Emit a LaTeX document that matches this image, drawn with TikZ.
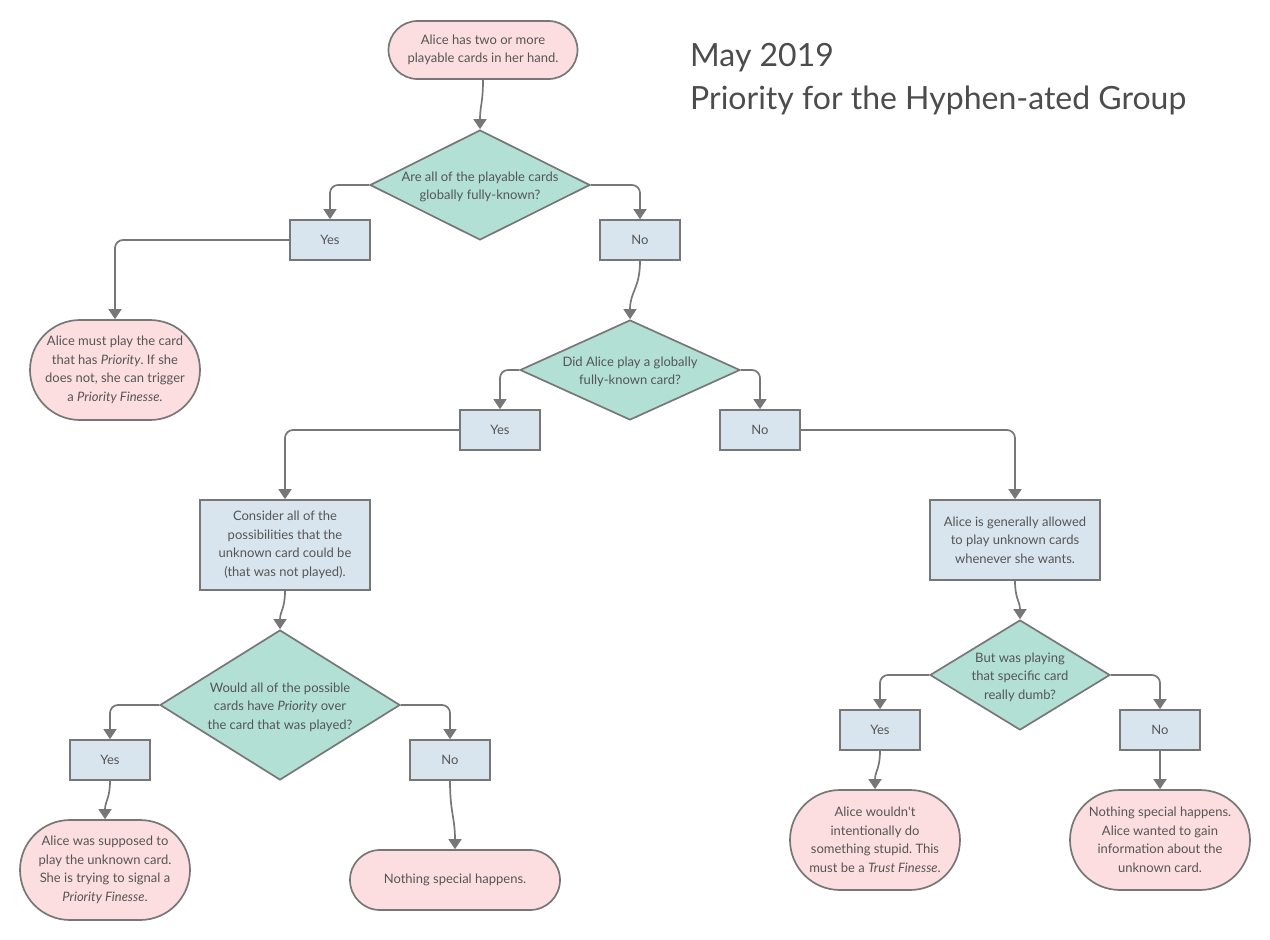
\documentclass[tikz,border=0pt]{standalone}
\usepackage{fontspec}
\setmainfont{Lato}
\frenchspacing
\usetikzlibrary{shapes.geometric,shapes.misc,arrows.meta}
\definecolor{lineGray}{HTML}{777777}
\definecolor{textGray}{HTML}{555555}
\definecolor{pinkFill}{HTML}{FDDEE0}
\definecolor{tealFill}{HTML}{B2E0D5}
\definecolor{blueFill}{HTML}{D9E5EE}
\newcommand{\dtext}[1]{\smash{\raisebox{-5pt}{\makebox[0pt]{\begin{tabular}{@{}c@{}}#1\end{tabular}}}}}

\begin{document}
\begin{tikzpicture}[x=1pt, y=-1pt,
  every node/.style={font=\fontsize{13}{18.5}\selectfont, text=textGray, align=center, inner sep=0pt},
  term/.style={rounded rectangle, draw=lineGray, fill=pinkFill, line width=1.7pt, minimum width=170, minimum height=100},
  ask/.style={diamond, draw=lineGray, fill=tealFill, line width=1.7pt},
  info/.style={rectangle, draw=lineGray, fill=blueFill, line width=1.7pt, minimum width=170},
  pick/.style={rectangle, draw=lineGray, fill=blueFill, line width=1.7pt, minimum width=80, minimum height=40},
  flow/.style={draw=lineGray, line width=1.7pt, rounded corners=8pt, -{Triangle[length=10pt,width=13pt]}}]
  \useasboundingbox (0,0) rectangle (1270,940);

  % title
  \node[anchor=base west, font=\fontsize{32}{43}\selectfont, text=textGray!90!black] (date) at (690,66) {May 2019};
  \node[anchor=base west, font=\fontsize{32}{43}\selectfont, text=textGray!90!black] (title) at (690,109) {Priority for the Hyphen-ated Group};

  % top
  \node[term, minimum width=189, minimum height=58] (start) at (483,50) {Alice has two or more\\playable cards in her hand.};
  \node[ask, minimum width=220, minimum height=110] (q1) at (480,185) {\dtext{Are all of the playable cards\\globally fully-known?}};
  \node[pick] (yes1) at (330,240) {Yes};
  \node[pick] (no1) at (640,240) {No};
  \node[term] (endA) at (115,370) {Alice must play the card\\that has \textit{Priority}. If she\\does not, she can trigger\\a \textit{Priority Finesse}.};

  % middle
  \node[ask, minimum width=220, minimum height=100] (q2) at (630,370) {\dtext{Did Alice play a globally\\fully-known card?}};
  \node[pick] (yes2) at (500,430) {Yes};
  \node[pick] (no2) at (760,430) {No};
  \node[info, minimum height=90] (consider) at (285,545) {Consider all of the\\possibilities that the\\unknown card could be\\(that was not played).};
  \node[info, minimum height=80] (allowed) at (1015,540) {Alice is generally allowed\\to play unknown cards\\whenever she wants.};

  % bottom left
  \node[ask, minimum width=240, minimum height=150] (q3) at (280,705) {\dtext{Would all of the possible\\cards have \textit{Priority} over\\the card that was played?}};
  \node[pick] (yes3) at (110,760) {Yes};
  \node[pick] (no3) at (450,760) {No};
  \node[term] (endB) at (105,870) {Alice was supposed to\\play the unknown card.\\She is trying to signal a\\\textit{Priority Finesse}.};
  \node[term, minimum width=210, minimum height=60] (endC) at (455,880) {Nothing special happens.};

  % bottom right
  \node[ask, minimum width=180, minimum height=110] (q4) at (1020,675) {\dtext{But was playing\\that specific card\\really dumb?}};
  \node[pick] (yes4) at (880,730) {Yes};
  \node[pick] (no4) at (1160,730) {No};
  \node[term] (endD) at (875,840) {Alice wouldn\textquotesingle t\\intentionally do\\something stupid. This\\must be a \textit{Trust Finesse}.};
  \node[term, minimum width=180] (endE) at (1160,840) {Nothing special happens.\\Alice wanted to gain\\information about the\\unknown card.};

  % connectors
  \draw[flow] (start.south) .. controls +(0,24) and +(0,-24) .. (q1.north);
  \draw[flow] (q1.west) -| (yes1.north);
  \draw[flow] (q1.east) -| (no1.north);
  \draw[flow] (yes1.west) -| (endA.north);
  \draw[flow] (no1.south) .. controls +(0,28) and +(0,-28) .. (q2.north);
  \draw[flow] (q2.west) -| (yes2.north);
  \draw[flow] (q2.east) -| (no2.north);
  \draw[flow] (yes2.west) -| (consider.north);
  \draw[flow] (no2.east) -| (allowed.north);
  \draw[flow] (consider.south) .. controls +(0,18) and +(0,-18) .. (q3.north);
  \draw[flow] (q3.west) -| (yes3.north);
  \draw[flow] (q3.east) -| (no3.north);
  \draw[flow] (yes3.south) .. controls +(0,18) and +(0,-18) .. (endB.north);
  \draw[flow] (no3.south) .. controls +(0,32) and +(0,-32) .. (endC.north);
  \draw[flow] (allowed.south) .. controls +(0,18) and +(0,-18) .. (q4.north);
  \draw[flow] (q4.west) -| (yes4.north);
  \draw[flow] (q4.east) -| (no4.north);
  \draw[flow] (yes4.south) .. controls +(0,18) and +(0,-18) .. (endD.north);
  \draw[flow] (no4.south) -- (endE.north);
\end{tikzpicture}
\end{document}
